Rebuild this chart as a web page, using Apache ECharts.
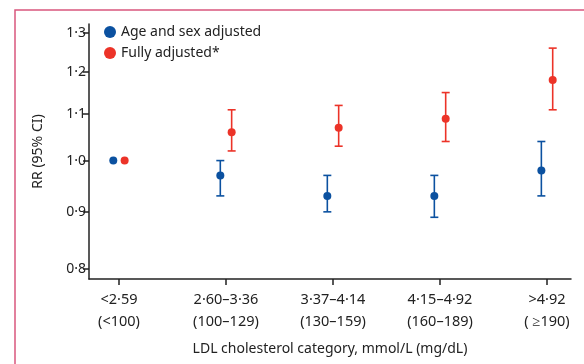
<!DOCTYPE html>
<html><head><meta charset="utf-8">
<script src="https://cdn.jsdelivr.net/npm/echarts@6/dist/echarts.min.js"></script>
<style>html,body{margin:0;padding:0;background:#fff}#c{width:584px;height:364px}</style>
</head><body><div id="c"></div>
<script>
const categories = ['<2·59\n(<100)', '2·60–3·36\n(100–129)', '3·37–4·14\n(130–159)', '4·15–4·92\n(160–189)', '>4·92\n( ≥190)'];
const ageSexRR   = [1.00, 0.97, 0.93, 0.93, 0.98];
const ageSexLow  = [null, 0.93, 0.90, 0.89, 0.93];
const ageSexHigh = [null, 1.00, 0.97, 0.97, 1.04];
const fullRR     = [1.00, 1.06, 1.07, 1.09, 1.18];
const fullLow    = [null, 1.02, 1.03, 1.04, 1.11];
const fullHigh   = [null, 1.11, 1.12, 1.15, 1.26];
const yTicks = [0.8, 0.9, 1.0, 1.1, 1.2, 1.3];

const BLUE = '#0b51a0', RED = '#ec3328';
const FONT = 'Noto Sans';
const ln = Math.log;
const offset = 0.053;

function pts(rr, dx){ return rr.map((v,i)=>[i+dx, ln(v)]); }
function bars(lo, hi, dx){ return lo.map((v,i)=> v==null?null:[i+dx, ln(v), ln(hi[i])]).filter(Boolean); }

function errRender(color){
  return function(params, api){
    const x = api.value(0);
    const p1 = api.coord([x, api.value(1)]);
    const p2 = api.coord([x, api.value(2)]);
    const w = 4;
    const st = {stroke: color, lineWidth: 1.6};
    return {type:'group', children:[
      {type:'line', shape:{x1:p1[0], y1:p1[1], x2:p2[0], y2:p2[1]}, style:st},
      {type:'line', shape:{x1:p1[0]-w, y1:p1[1], x2:p1[0]+w, y2:p1[1]}, style:st},
      {type:'line', shape:{x1:p2[0]-w, y1:p2[1], x2:p2[0]+w, y2:p2[1]}, style:st}
    ]};
  };
}

const chart = echarts.init(document.getElementById('c'), null, {renderer:'canvas'});
chart.setOption({
  animation:false,
  textStyle:{fontFamily:FONT},
  graphic:[{type:'rect', shape:{x:15, y:10, width:700, height:500}, style:{fill:'none', stroke:'#d9577e', lineWidth:1.5}, silent:true}],
  grid:{left:89, right:13, top:24, bottom:85},
  legend:{
    orient:'vertical', left:99, top:20, itemGap:7, itemWidth:12, itemHeight:12,
    icon:'circle', textStyle:{fontFamily:FONT, fontSize:14, color:'#222'},
    data:['Age and sex adjusted','Fully adjusted*']
  },
  xAxis:{
    type:'value', min:-0.28, max:4.224,
    name:'LDL cholesterol category, mmol/L (mg/dL)', nameLocation:'middle', nameGap:63,
    nameTextStyle:{fontFamily:FONT, fontSize:14, color:'#222'},
    splitLine:{show:false},
    axisLine:{onZero:false, lineStyle:{color:'#222', width:1.5}},
    axisTick:{customValues:[0,1,2,3,4], length:6, lineStyle:{color:'#222', width:1.5}},
    axisLabel:{customValues:[0,1,2,3,4], formatter:v=>categories[Math.round(v)], fontFamily:FONT, fontSize:14.5, color:'#222', lineHeight:22, margin:10}
  },
  yAxis:{
    type:'value', min:ln(0.784), max:ln(1.324),
    name:'RR (95% CI)', nameLocation:'middle', nameGap:44,
    nameTextStyle:{fontFamily:FONT, fontSize:14, color:'#222'},
    splitLine:{show:false},
    axisLine:{show:true, onZero:false, lineStyle:{color:'#222', width:1.5}},
    axisTick:{show:true, customValues:yTicks.map(ln), length:6, lineStyle:{color:'#222', width:1.5}},
    axisLabel:{customValues:yTicks.map(ln), formatter:v=>Math.exp(v).toFixed(1).replace('.', '·'), fontFamily:FONT, fontSize:14, color:'#222', margin:3}
  },
  series:[
    {name:'Age and sex adjusted', type:'custom', renderItem:errRender(BLUE), data:bars(ageSexLow, ageSexHigh, -offset), encode:{x:0,y:[1,2]}, itemStyle:{color:BLUE}, z:2},
    {name:'Fully adjusted*', type:'custom', renderItem:errRender(RED), data:bars(fullLow, fullHigh, offset), encode:{x:0,y:[1,2]}, itemStyle:{color:RED}, z:2},
    {name:'Age and sex adjusted', type:'scatter', symbolSize:8, data:pts(ageSexRR, -offset), itemStyle:{color:BLUE, opacity:1}, z:3},
    {name:'Fully adjusted*', type:'scatter', symbolSize:8, data:pts(fullRR, offset), itemStyle:{color:RED, opacity:1}, z:3}
  ]
});
</script></body></html>
